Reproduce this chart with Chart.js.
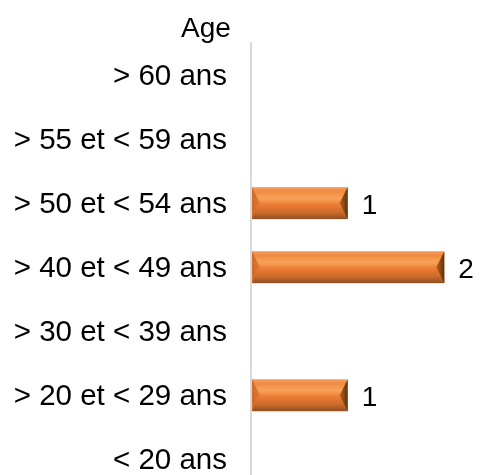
<!DOCTYPE html>
<html>
<head>
<meta charset="utf-8">
<script src="https://cdn.jsdelivr.net/npm/chart.js@4/dist/chart.umd.min.js"></script>
<style>
  html, body { margin: 0; padding: 0; background: #fff; overflow: hidden; }
  #wrap { width: 483px; height: 533px; position: relative; }
  #chart { width: 483px; height: 533px; display: block; }
</style>
</head>
<body>
<div id="wrap"><canvas id="chart" width="483" height="533"></canvas></div>
<script>
// Age brackets, listed from top to bottom
const categories = ['> 60 ans', '> 55 et < 59 ans', '> 50 et < 54 ans', '> 40 et < 49 ans', '> 30 et < 39 ans', '> 20 et < 29 ans', '< 20 ans'];
// Number of people in each bracket
const counts = [0, 0, 1, 2, 0, 1, 0];
const axisTitle = 'Age';

const FONT = '"Liberation Sans", Arial, sans-serif';
const FONT_SIZE = 28;
const TICK_SIZE = 29.5;

// Bevelled orange bars with a value label to the right of each one
const bevelBars = {
  id: 'bevelBars',
  afterDatasetsDraw(chart) {
    const ctx = chart.ctx;
    const meta = chart.getDatasetMeta(0);
    meta.data.forEach((bar, i) => {
      const v = counts[i];
      if (!v) return;
      const x0 = bar.base + 1, x1 = bar.x;
      const y0 = bar.y - bar.height / 2, y1 = bar.y + bar.height / 2;
      const ym = bar.y, h = y1 - y0, b = 8;
      ctx.save();
      // body: vertical shading
      const g = ctx.createLinearGradient(0, y0, 0, y1);
      g.addColorStop(0, '#F6A068');
      g.addColorStop(0.12, '#F08A40');
      g.addColorStop(0.35, '#F9A25A');
      g.addColorStop(0.55, '#EC7C32');
      g.addColorStop(0.8, '#C96A2A');
      g.addColorStop(1, '#8E4E22');
      ctx.fillStyle = g;
      ctx.fillRect(x0, y0, x1 - x0, h);
      // left bevel
      const gl = ctx.createLinearGradient(x0, 0, x0 + b, 0);
      gl.addColorStop(0, '#D0682A');
      gl.addColorStop(1, '#E47A34');
      ctx.fillStyle = gl;
      ctx.beginPath();
      ctx.moveTo(x0, y0); ctx.lineTo(x0 + b, ym); ctx.lineTo(x0, y1); ctx.closePath();
      ctx.fill();
      // right bevel
      const gr = ctx.createLinearGradient(x1 - b, 0, x1, 0);
      gr.addColorStop(0, '#B8631F');
      gr.addColorStop(1, '#5E3110');
      ctx.fillStyle = gr;
      ctx.beginPath();
      ctx.moveTo(x1, y0); ctx.lineTo(x1 - b, ym); ctx.lineTo(x1, y1); ctx.closePath();
      ctx.fill();
      // value label
      ctx.fillStyle = '#000';
      ctx.font = FONT_SIZE + 'px ' + FONT;
      ctx.textAlign = 'left';
      ctx.textBaseline = 'middle';
      ctx.fillText(String(v), x1 + 14, ym + 3);
      ctx.restore();
    });
    // axis title above the category labels
    ctx.save();
    ctx.fillStyle = '#000';
    ctx.font = FONT_SIZE + 'px ' + FONT;
    ctx.textAlign = 'center';
    ctx.textBaseline = 'middle';
    ctx.fillText(axisTitle, chart.chartArea.left - 45, chart.chartArea.top - 14);
    ctx.restore();
  }
};

new Chart(document.getElementById('chart'), {
  type: 'bar',
  data: {
    labels: categories,
    datasets: [{
      data: counts,
      backgroundColor: 'rgba(0,0,0,0)',
      borderWidth: 0,
      barPercentage: 0.5,
      categoryPercentage: 1
    }]
  },
  options: {
    indexAxis: 'y',
    responsive: false,
    maintainAspectRatio: false,
    animation: false,
    layout: { padding: { top: 43, right: 0, bottom: 1, left: 0 } },
    plugins: { legend: { display: false }, tooltip: { enabled: false } },
    scales: {
      x: {
        display: false,
        min: 0,
        max: 2.4
      },
      y: {
        grid: { display: false, drawTicks: false, tickLength: 0 },
        border: { display: true, color: '#D9D9D9', width: 2 },
        ticks: {
          color: '#000',
          padding: 24,
          labelOffset: 2,
          font: { family: FONT, size: TICK_SIZE }
        },
        afterFit(scale) { scale.width = 251; }
      }
    }
  },
  plugins: [bevelBars]
});
</script>
</body>
</html>
